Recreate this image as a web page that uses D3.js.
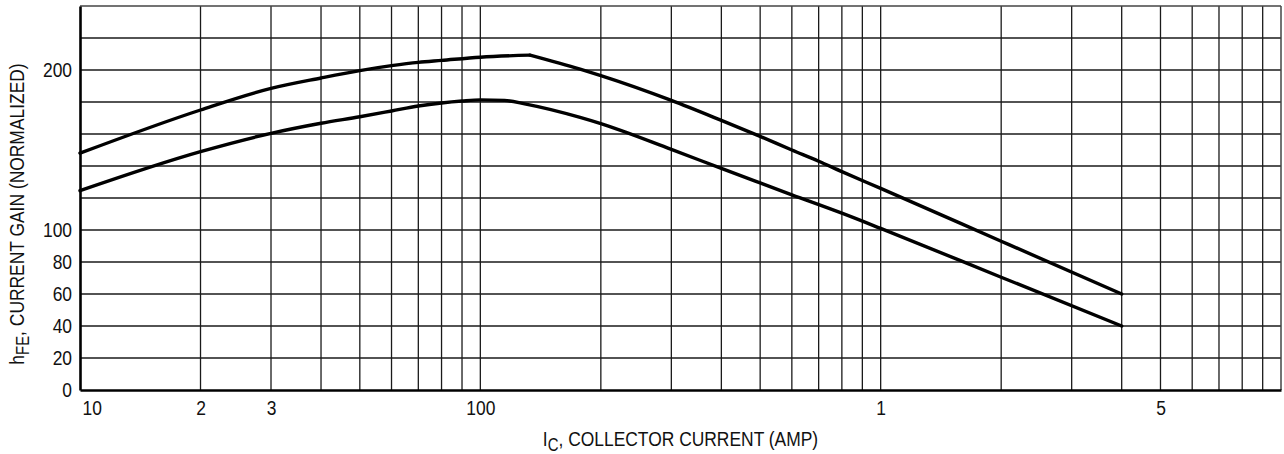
<!DOCTYPE html>
<html>
<head>
<meta charset="utf-8">
<script src="https://cdn.jsdelivr.net/npm/d3@7"></script>
<style>
  html, body { margin: 0; padding: 0; background: #fff; }
  svg { display: block; }
  text { font-family: "Liberation Sans", Arial, sans-serif; fill: #111; }
</style>
</head>
<body>
<svg id="chart" width="1284" height="454"></svg>
<script>
// ---- data (collector current in A, normalized hFE) ----
const upperCurrent = [0.01, 0.02, 0.03, 0.04, 0.05, 0.06, 0.07, 0.08, 0.1, 0.133, 0.1775, 0.2, 0.3, 0.4, 0.5, 0.6, 0.7, 0.8, 1, 2, 4];
const upperGain    = [148, 175, 188.5, 195, 199.6, 202.7, 204.8, 206, 208, 209.3, 200.5, 196.5, 181, 168.5, 158.5, 150, 143, 136.5, 126, 93, 60];

const lowerCurrent = [0.01, 0.02, 0.03, 0.04, 0.05, 0.06, 0.07, 0.08, 0.09, 0.1, 0.115, 0.13, 0.1775, 0.2, 0.3, 0.4, 0.5, 0.6, 0.8, 1, 2, 4];
const lowerGain    = [124.6, 149, 160.4, 166.7, 170.8, 174.4, 177.5, 179.4, 180.6, 181.3, 181, 178.7, 170.4, 166.5, 150.4, 138.5, 129.4, 122, 110.5, 101, 70.5, 40];

const xTickValues = [0.01, 0.02, 0.03, 0.1, 1, 5];
const xTickLabels = ["10", "2", "3", "100", "1", "5"];
const yTickValues = [0, 20, 40, 60, 80, 100, 200];
const yTickLabels = ["0", "20", "40", "60", "80", "100", "200"];
const xDomain = [0.01, 10];
const yDomain = [0, 240];
const yGridStep = 20;

(function () {
const svg = d3.select("#chart");
const mLeft = 80, mRight = 1281, mTop = 6, mBottom = 390;
const squeeze = 0.83;   // condensed type look
const fs = 21;

const x = d3.scaleLog().domain(xDomain).range([mLeft, mRight]);
const y = d3.scaleLinear().domain(yDomain).range([mBottom, mTop]);

// grid
const xGrid = x.ticks().filter(v => v > xDomain[0] && v < xDomain[1]);
const yGrid = d3.range(yDomain[0] + yGridStep, yDomain[1], yGridStep);

const grid = svg.append("g");
grid.selectAll("line.v").data(xGrid).join("line")
  .attr("class", "v")
  .attr("x1", d => x(d)).attr("x2", d => x(d))
  .attr("y1", mTop).attr("y2", mBottom)
  .attr("stroke", "#1a1a1a").attr("stroke-width", 1.3);
grid.selectAll("line.h").data(yGrid).join("line")
  .attr("class", "h")
  .attr("x1", mLeft).attr("x2", mRight)
  .attr("y1", d => y(d)).attr("y2", d => y(d))
  .attr("stroke", "#1a1a1a").attr("stroke-width", 1.3);

// frame (top & right)
svg.append("line").attr("x1", mLeft).attr("x2", mRight).attr("y1", y(yDomain[1])).attr("y2", y(yDomain[1]))
  .attr("stroke", "#444").attr("stroke-width", 1.5);
svg.append("line").attr("x1", x(xDomain[1])).attr("x2", x(xDomain[1])).attr("y1", mTop).attr("y2", mBottom)
  .attr("stroke", "#444").attr("stroke-width", 1.5);

// curves
const line = d3.line().x(d => x(d[0])).y(d => y(d[1])).curve(d3.curveMonotoneX);
const upper = upperCurrent.map((c, i) => [c, upperGain[i]]);
const lower = lowerCurrent.map((c, i) => [c, lowerGain[i]]);
const peakIdx = d3.maxIndex(upperGain);
const segments = [upper.slice(0, peakIdx + 1), upper.slice(peakIdx), lower];
segments.forEach(s => {
  svg.append("path").datum(s).attr("d", line)
    .attr("fill", "none").attr("stroke", "#000").attr("stroke-width", 3.4)
    .attr("stroke-linejoin", "round").attr("stroke-linecap", "round");
});

// axes
const xAxis = d3.axisBottom(x).tickValues(xTickValues)
  .tickFormat((d, i) => xTickLabels[i]).tickSize(0).tickPadding(10);
const gx = svg.append("g").attr("transform", `translate(0,${mBottom})`).call(xAxis);
gx.attr("font-family", null).attr("font-size", fs);
gx.select(".domain").attr("stroke", "#000").attr("stroke-width", 2.6);
gx.selectAll("text").attr("fill", "#111").attr("transform", `scale(${squeeze},1)`);
gx.selectAll(".tick").filter(d => d === xDomain[0]).select("text")
  .attr("text-anchor", "start").attr("dx", 2 / squeeze);

const yAxis = d3.axisLeft(y).tickValues(yTickValues)
  .tickFormat((d, i) => yTickLabels[i]).tickSize(0).tickPadding(8);
const gy = svg.append("g").attr("transform", `translate(${mLeft},0)`).call(yAxis);
gy.attr("font-family", null).attr("font-size", fs);
gy.select(".domain").attr("stroke", "#000").attr("stroke-width", 2.6);
gy.selectAll("text").attr("fill", "#111").attr("x", -8 / squeeze)
  .attr("transform", `scale(${squeeze},1)`);

// axis titles
const xt = svg.append("text")
  .attr("transform", `translate(${(mLeft + mRight) / 2},446) scale(${squeeze},1)`)
  .attr("text-anchor", "middle").attr("font-size", fs);
xt.append("tspan").text("I");
xt.append("tspan").attr("font-size", 18).attr("dy", 5).text("C");
xt.append("tspan").attr("dy", -5).text(", COLLECTOR CURRENT (AMP)");

const yt = svg.append("text")
  .attr("transform", `translate(24,214) rotate(-90) scale(${squeeze},1)`)
  .attr("text-anchor", "middle").attr("font-size", fs);
yt.append("tspan").text("h");
yt.append("tspan").attr("font-size", 18).attr("dy", 5).text("FE");
yt.append("tspan").attr("dy", -5).text(", CURRENT GAIN (NORMALIZED)");
})();
</script>
</body>
</html>
